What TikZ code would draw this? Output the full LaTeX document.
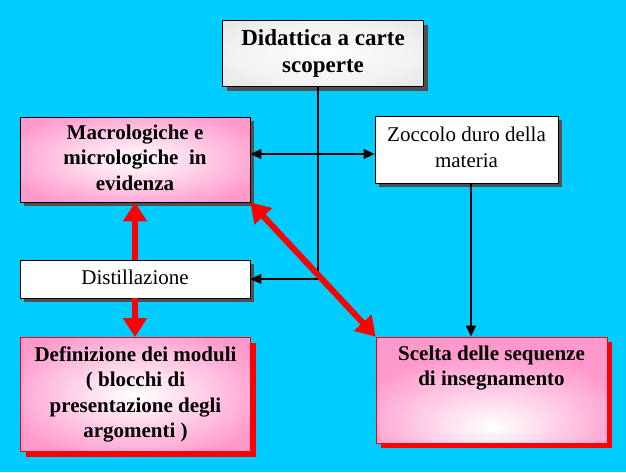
\documentclass[tikz,border=0pt]{standalone}
\usepackage{fontspec}
\setmainfont{Liberation Serif}
\usetikzlibrary{arrows.meta,shadows}
\definecolor{bgc}{HTML}{00CCFF}
\definecolor{pinkc}{HTML}{FF99CC}
\definecolor{shadowc}{HTML}{505050}
\pgfdeclareradialshading{pinkglow}{\pgfpoint{0bp}{0bp}}{color(0bp)=(white); color(8bp)=(white!75!pinkc); color(30bp)=(pinkc); color(50bp)=(pinkc); color(100bp)=(pinkc)}
\pgfdeclareradialshading{pinkglowlow}{\pgfpoint{0bp}{-18bp}}{color(0bp)=(white); color(8bp)=(white!75!pinkc); color(30bp)=(pinkc); color(50bp)=(pinkc); color(100bp)=(pinkc)}
\pgfdeclareradialshading{marble}{\pgfpoint{0bp}{0bp}}{color(0bp)=(white); color(25bp)=(gray!12); color(50bp)=(gray!35); color(100bp)=(gray!35)}
\tikzset{
  box/.style={rectangle, inner sep=0pt, align=center, draw=black, line width=0.8pt},
  gshadow/.style={drop shadow={shadow xshift=4pt, shadow yshift=-4pt, fill=shadowc, opacity=1}},
  rshadow/.style={drop shadow={shadow xshift=5pt, shadow yshift=-5pt, fill=red, opacity=1}},
  regtxt/.style={font=\fontsize{21}{26}\selectfont},
  boldtxt/.style={font=\fontsize{21}{25.5}\selectfont\bfseries},
  blk/.style={draw=black, line width=1.4pt, -{Triangle[length=11pt,width=10pt]}},
  blkboth/.style={draw=black, line width=1.4pt, {Triangle[length=11pt,width=10pt]}-{Triangle[length=11pt,width=10pt]}},
  redarr/.style={draw=red, line width=6pt, -{Triangle[length=19pt,width=23pt]}},
  redboth/.style={draw=red, line width=6pt, {Triangle[length=19pt,width=23pt]}-{Triangle[length=19pt,width=23pt]}},
}
\begin{document}
\begin{tikzpicture}[x=1pt,y=-1pt]
\fill[bgc] (0,0) rectangle (626,472);
% boxes
\node[box, gshadow, shading=marble, minimum width=201pt, minimum height=66pt,
      font=\fontsize{23}{27}\selectfont\bfseries] (did) at (323,53.5)
      {\strut Didattica a carte\\\strut scoperte};
\node[box, gshadow, shading=pinkglow, boldtxt, minimum width=230pt, minimum height=85pt] (mac) at (135,159.5)
      {\strut Macrologiche e\\\strut micrologiche\ \ in\\\strut evidenza};
\node[box, gshadow, fill=white, regtxt, minimum width=230pt, minimum height=38pt] (dist) at (135,279)
      {\strut Distillazione};
\node[box, gshadow, fill=white, regtxt, minimum width=183pt, minimum height=67pt] (zoc) at (466.5,149.5)
      {\strut Zoccolo duro della\\\strut materia\rule[-4pt]{0pt}{0pt}};
\node[box, rshadow, draw=red, shading=pinkglow, boldtxt, minimum width=230pt, minimum height=114pt] (def) at (135.5,394.5)
      {\strut Definizione dei moduli\\\strut ( blocchi di\\\strut presentazione degli\\\strut argomenti )};
\node[box, rshadow, draw=red, shading=pinkglowlow, minimum width=231pt, minimum height=106pt] (sce) at (491.5,390) {};
\node[boldtxt, align=center, inner sep=0pt, anchor=north] (scet) at ([yshift=-5.5pt]sce.north)
      {\strut Scelta delle sequenze\\\strut di insegnamento};
% connectors
\coordinate (j) at (318,279);
\coordinate (m) at (0,154);
\coordinate (zx) at (471,0);
\draw[blk] (j |- did.south) -- (j) -- (dist.east);
\draw[blkboth] (mac.east |- m) -- (zoc.west |- m);
\draw[blk] (zx |- zoc.south) -- (zx |- sce.north);
\draw[redboth] (mac.south east) -- (sce.north west);
\draw[redarr] (dist.north) -- (mac.south);
\draw[redarr] (dist.south) -- (dist.south |- def.north);
\end{tikzpicture}
\end{document}
